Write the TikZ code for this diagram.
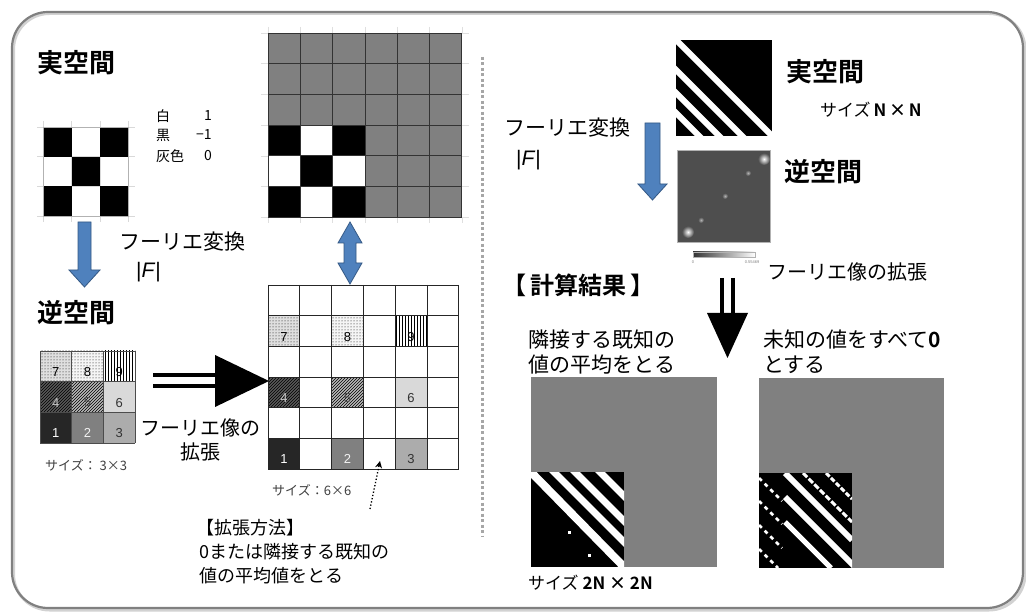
\documentclass[tikz,border=0pt]{standalone}
\usepackage{fontspec}
\setmainfont{Noto Sans CJK JP}[BoldFont={Noto Sans CJK JP Bold}]
\newfontfamily\lsans{Liberation Sans}
\usetikzlibrary{patterns,arrows.meta}
\definecolor{oblue}{RGB}{79,129,189}
\definecolor{oblued}{RGB}{52,88,132}
\definecolor{framec}{RGB}{128,128,128}
\definecolor{recipc}{RGB}{78,78,78}
\newcommand\numcell[7]{%
  \path[c#5] (#1,#2) rectangle ++(#3,#4);
  \node[numtxt,text=#6] (#7#5) at ({#1+#3/2},{#2+#4*0.68}) {#5};}
\begin{document}
\begin{tikzpicture}[x=1pt,y=-1pt,
  ttl/.style={font=\bfseries\fontsize{26}{30}\selectfont, inner sep=0, anchor=west},
  jlab/.style={font=\fontsize{20}{24}\selectfont, inner sep=0, anchor=west},
  mlab/.style={font=\fontsize{18}{22}\selectfont, inner sep=0, anchor=west},
  small/.style={font=\fontsize{13}{15}\selectfont, inner sep=0, anchor=west, text=black!75},
  legend/.style={font=\fontsize{14}{16}\selectfont, inner sep=0, anchor=west},
  numtxt/.style={font=\lsans\fontsize{13}{15}\selectfont, inner sep=0},
  barrow/.style={fill=oblue, draw=oblued, line width=0.8pt, line join=miter},
  c1/.style={fill=black!85},
  c2/.style={fill=gray},
  c3/.style={fill=gray!65},
  c4/.style={fill=black!65, postaction={pattern=north east lines}},
  c5/.style={fill=gray!55, postaction={pattern=north east lines}},
  c6/.style={fill=gray!30},
  c7/.style={fill=gray!25, postaction={pattern=dots}},
  c8/.style={fill=gray!8, postaction={pattern=dots}},
  c9/.style={fill=white, postaction={pattern=vertical lines}},
  stripe/.style={draw=white, line cap=butt},
]
\fill[white] (0,0) rectangle (1026,612);
\useasboundingbox (0,0) rectangle (1026,612);
% frame
\draw[rounded corners=36, line width=3pt, draw=gray!35] (13.5,13.5) rectangle (1025,610);
\draw[rounded corners=36, line width=2.2pt, draw=framec] (12,12) rectangle (1023,608);

% ---------- left: real space 3x3 ----------
\node[ttl] (real1) at (37,63) {実空間};
\foreach \i in {0,...,3}{
  \draw[gray!30, line width=0.6pt] (37,{127+29.7*\i}) -- (135,{127+29.7*\i});
  \draw[gray!30, line width=0.6pt] ({43+28.5*\i},121) -- ({43+28.5*\i},222);
}
\foreach \r in {0,1,2}{\foreach \c in {0,1,2}{
  \pgfmathtruncatemacro\s{\r+\c}
  \ifodd\s\else\fill[black] ({43+28.5*\c},{127+29.7*\r}) rectangle ++(28.5,29.7);\fi
}}
\draw[gray!60, line width=0.6pt] (43,127) rectangle (128.5,216.1);
\node[legend] (w1) at (156,116) {白};
\node[legend] (w2) at (204,116) {1};
\node[legend] (k1) at (156,135) {黒};
\node[legend] (k2) at (196,135) {−1};
\node[legend] (g1) at (156,156) {灰色};
\node[legend] (g2) at (204,156) {0};

% blue arrow down (left)
\filldraw[barrow] (78,222) -- (91,222) -- (91,270) -- (100,270) -- (84.5,287) -- (69,270) -- (78,270) -- cycle;
\node[jlab, font=\fontsize{21}{24}\selectfont] (ft1) at (119,242) {フーリエ変換};
\node[jlab, font=\lsans\fontsize{21}{24}\selectfont] (F1) at (136,272) {|\textit{F}|};

% ---------- reciprocal 3x3 ----------
\node[ttl] (recip1) at (37,313) {逆空間};
\numcell{40}{351}{31.7}{30.7}{7}{black}{a}
\numcell{71.7}{351}{31.7}{30.7}{8}{black}{a}
\numcell{103.4}{351}{31.7}{30.7}{9}{black}{a}
\numcell{40}{381.7}{31.7}{30.7}{4}{gray!45}{a}
\numcell{71.7}{381.7}{31.7}{30.7}{5}{black!70}{a}
\numcell{103.4}{381.7}{31.7}{30.7}{6}{black!80}{a}
\numcell{40}{412.4}{31.7}{30.7}{1}{white}{a}
\numcell{71.7}{412.4}{31.7}{30.7}{2}{white!90!gray}{a}
\numcell{103.4}{412.4}{31.7}{30.7}{3}{black!80}{a}
\foreach \i in {0,...,3}{
  \draw[black!70, line width=0.7pt] (40,{351+30.7*\i}) -- (135.1,{351+30.7*\i});
  \draw[black!70, line width=0.7pt] ({40+31.7*\i},351) -- ({40+31.7*\i},443.1);
}
\node[small] (sz3) at (45,465) {サイズ：  3×3};

% big black double arrow (left)
\draw[line width=4pt] (153,375) -- (222,375) (153,386.5) -- (222,386.5);
\fill (215,355) -- (269,381) -- (215,407) -- cycle;
\node[jlab, anchor=center] (fx1) at (200,428) {フーリエ像の};
\node[jlab, anchor=center] (fx2) at (200,452) {拡張};

% ---------- top 6x6 ----------
\fill[gray] (268,33) rectangle (461.8,217.2);
\foreach \r in {3,4,5}{\foreach \c in {0,1,2}{
  \pgfmathtruncatemacro\s{\r+\c}
  \ifodd\s \def\cc{black}\else\def\cc{white}\fi
  \fill[\cc] ({268+32.3*\c},{33+30.7*\r}) rectangle ++(32.3,30.7);
}}
\foreach \i in {0,...,6}{
  \draw[gray!25, line width=0.5pt] (261,{33+30.7*\i}) -- (268,{33+30.7*\i}) (461.8,{33+30.7*\i}) -- (469,{33+30.7*\i});
  \draw[gray!25, line width=0.5pt] ({268+32.3*\i},27) -- ({268+32.3*\i},33) ({268+32.3*\i},217.2) -- ({268+32.3*\i},223);
  \draw[black!80, line width=0.7pt] (268,{33+30.7*\i}) -- (461.8,{33+30.7*\i});
  \draw[black!80, line width=0.7pt] ({268+32.3*\i},33) -- ({268+32.3*\i},217.2);
}

% blue double arrow
\filldraw[barrow] (350,222) -- (362,243) -- (356,243) -- (356,263) -- (362,263) -- (350,284) -- (338,263) -- (344,263) -- (344,243) -- (338,243) -- cycle;

% ---------- bottom 6x6 ----------
\fill[white] (268,285) rectangle (458.8,469.2);
\numcell{268}{315.7}{31.8}{30.7}{7}{black}{b}
\numcell{331.6}{315.7}{31.8}{30.7}{8}{black}{b}
\numcell{395.2}{315.7}{31.8}{30.7}{9}{black}{b}
\numcell{268}{377.1}{31.8}{30.7}{4}{gray!45}{b}
\numcell{331.6}{377.1}{31.8}{30.7}{5}{black!70}{b}
\numcell{395.2}{377.1}{31.8}{30.7}{6}{black!80}{b}
\numcell{268}{438.5}{31.8}{30.7}{1}{white}{b}
\numcell{331.6}{438.5}{31.8}{30.7}{2}{white!90!gray}{b}
\numcell{395.2}{438.5}{31.8}{30.7}{3}{black!80}{b}
\foreach \i in {0,...,6}{
  \draw[black!85, line width=0.7pt] (268,{285+30.7*\i}) -- (458.8,{285+30.7*\i});
  \draw[black!85, line width=0.7pt] ({268+31.8*\i},285) -- ({268+31.8*\i},469.2);
}
\node[small] (sz6) at (272,490) {サイズ：6×6};
\coordinate (dotstart) at (370,509);
\coordinate (dottip) at (380,461);
\draw[dotted, line width=1.3pt, -{Stealth[length=7pt,width=7pt,open]}] (dotstart) -- (dottip);
\node[mlab] (m1) at (196,528) {【拡張方法】};
\node[mlab] (m2) at (199,552) {0または隣接する既知の};
\node[mlab] (m3) at (199,576) {値の平均値をとる};

% separator
\draw[gray!70, line width=3pt, dash pattern=on 3pt off 2.5pt] (482,57) -- (482,537);

% ---------- right: real space image ----------
\fill[black] (676,40) rectangle (772,136);
\begin{scope}
\clip (676,40) rectangle (772,136);
\draw[stripe, line width=6pt] (672,36) -- (776,140);
\draw[stripe, line width=6pt] (672,66) -- (746,140);
\draw[stripe, line width=6pt] (672,89) -- (723,140);
\draw[stripe, line width=6pt] (672,109) -- (703,140);
\end{scope}
% reciprocal image
\filldraw[fill=recipc, draw=gray!60, line width=0.8pt] (677,150) rectangle (770,242);
\shade[inner color=white, outer color=recipc] (688,232) circle (6);
\shade[inner color=gray!60, outer color=recipc] (701,220) circle (3);
\shade[inner color=gray!60, outer color=recipc] (725,196) circle (3);
\shade[inner color=gray!60, outer color=recipc] (748,173) circle (3);
\shade[inner color=white, outer color=recipc] (764,159) circle (6);
\shade[left color=black!80, right color=white] (693,252) rectangle (755,257);
\draw[gray!60, line width=0.3pt] (693,252) rectangle (755,257);
\node[font=\lsans\fontsize{4}{5}\selectfont, inner sep=0, text=gray] (cb0) at (693,262) {0};
\node[font=\lsans\fontsize{4}{5}\selectfont, inner sep=0, text=gray] (cb1) at (752,262) {0.55469};

\filldraw[barrow] (645,123) -- (660,123) -- (660,184) -- (667,184) -- (652.5,200) -- (638,184) -- (645,184) -- cycle;
\node[jlab, font=\fontsize{21}{24}\selectfont] (ft2) at (504,128) {フーリエ変換};
\node[jlab, font=\lsans\fontsize{21}{24}\selectfont] (F2) at (516,160) {|\textit{F}|};

\node[ttl] (real2) at (786,72) {実空間};
\node[jlab, font=\fontsize{17}{20}\selectfont] (szN) at (820,110) {サイズ\,\textbf{N\,×\,N}};
\node[ttl] (recip2) at (784,172) {逆空間};
\node[jlab] (fx3) at (767,272) {フーリエ像の拡張};

\node[ttl, font=\bfseries\fontsize{24}{28}\selectfont] (calc) at (502,285) {【\,計算結果\,】};
% big black arrow (right)
\draw[line width=3.5pt] (722,278) -- (722,316) (733,278) -- (733,316);
\fill (707,313) -- (748,313) -- (727.5,358) -- cycle;

\node[jlab, font=\fontsize{21}{24}\selectfont] (t1) at (528,340) {隣接する既知の};
\node[jlab, font=\fontsize{21}{24}\selectfont] (t2) at (528,365) {値の平均をとる};
\node[jlab, font=\fontsize{21}{24}\selectfont] (t3) at (763,340) {未知の値をすべて\textbf{0}};
\node[jlab, font=\fontsize{21}{24}\selectfont] (t4) at (763,365) {とする};

% result images
\fill[gray] (531,377) rectangle (717,567);
\fill[black] (531,472) rectangle (624,567);
\begin{scope}
\clip (531,472) rectangle (624,567);
\draw[stripe, line width=8pt] (527,468) -- (628,571);
\draw[stripe, line width=7pt] (550,468) -- (628,546);
\draw[stripe, line width=7pt] (571,468) -- (628,525);
\draw[stripe, line width=7pt] (596,468) -- (628,500);
\fill[white] (568,531) rectangle ++(3,3);
\fill[white] (588,554) rectangle ++(3,3);
\end{scope}
\node[jlab, font=\fontsize{17}{20}\selectfont] (sz2n) at (528,583) {サイズ \textbf{2N × 2N}};

\fill[gray] (759,378) rectangle (944,568);
\fill[black] (759,473) rectangle (852,568);
\begin{scope}
\clip (759,473) rectangle (852,568);
\draw[stripe, line width=6pt] (785,473) -- (852,540);
\draw[stripe, line width=6pt] (785,497) -- (856,568);
\draw[stripe, line width=5pt] (785,522) -- (831,568);
\draw[stripe, line width=3pt, dash pattern=on 6pt off 2pt] (803,473) -- (852,522);
\draw[stripe, line width=3pt, dash pattern=on 5pt off 2pt] (826,473) -- (852,499);
\draw[stripe, line width=2.5pt, dash pattern=on 4pt off 4pt] (759,478) -- (782,501);
\draw[stripe, line width=2.5pt, dash pattern=on 4pt off 4pt] (759,501) -- (782,524);
\draw[stripe, line width=2.5pt, dash pattern=on 4pt off 4pt] (759,525) -- (782,548);
\draw[stripe, line width=2.5pt, dash pattern=on 4pt off 4pt] (759,549) -- (778,568);
\end{scope}
\end{tikzpicture}
\end{document}
